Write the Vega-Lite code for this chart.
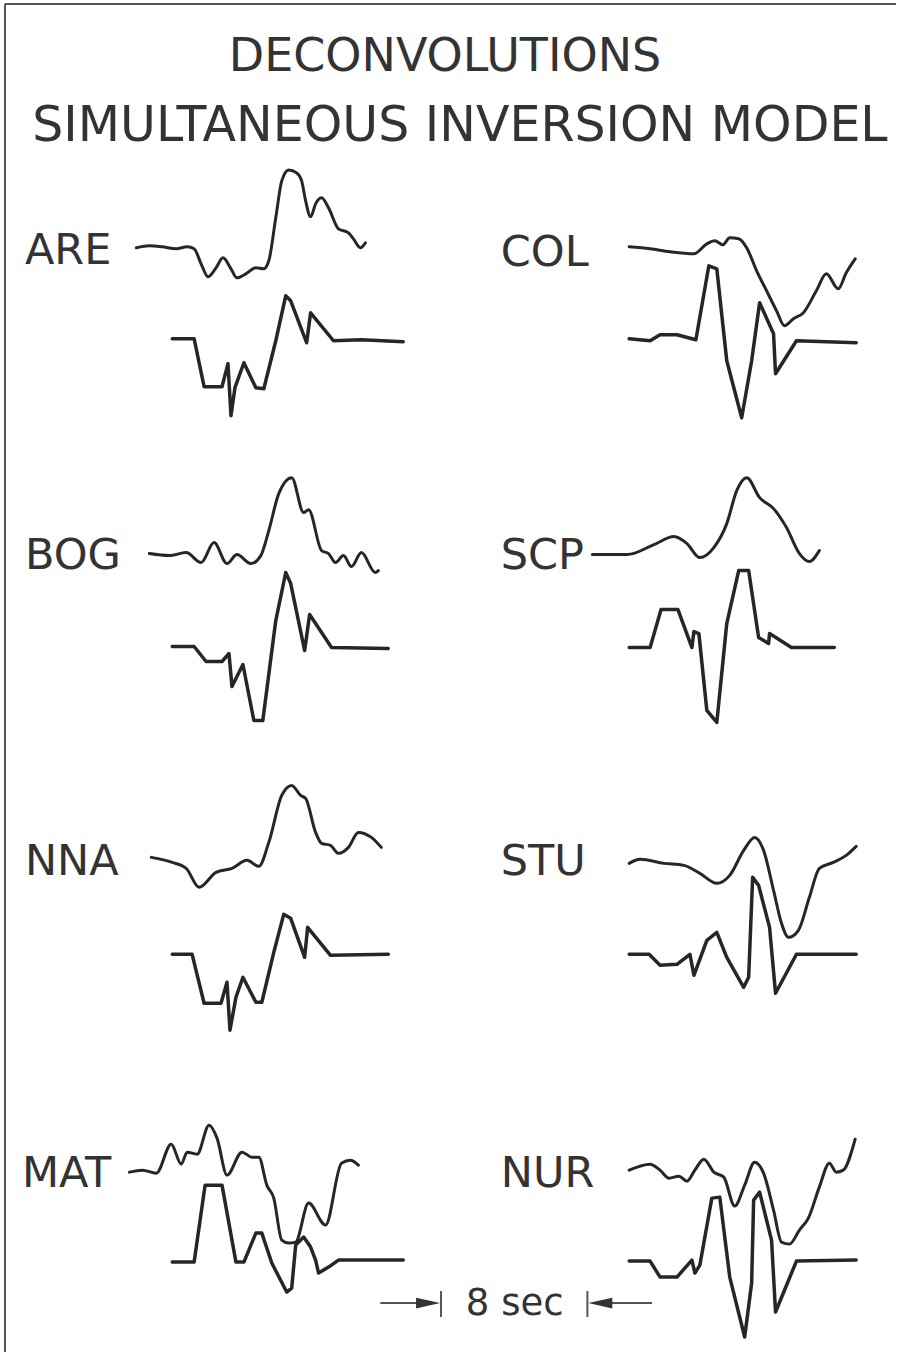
{
  "$schema": "https://vega.github.io/schema/vega-lite/v6.json",
  "autosize": {"type": "fit", "contains": "padding"},
  "width": 900,
  "height": 1357,
  "padding": 0,
  "background": "white",
  "config": {"view": {"stroke": null}},
  "datasets": {
    "frame": [
      {"s": "top", "i": 0, "x": 5, "y": 3}, {"s": "top", "i": 1, "x": 900, "y": 3},
      {"s": "left", "i": 0, "x": 5, "y": 3}, {"s": "left", "i": 1, "x": 5, "y": 1352},
      {"s": "shaftL", "i": 0, "x": 382, "y": 1303}, {"s": "shaftL", "i": 1, "x": 422, "y": 1303},
      {"s": "barL", "i": 0, "x": 443, "y": 1291}, {"s": "barL", "i": 1, "x": 443, "y": 1317},
      {"s": "barR", "i": 0, "x": 590, "y": 1291}, {"s": "barR", "i": 1, "x": 590, "y": 1317},
      {"s": "shaftR", "i": 0, "x": 612, "y": 1303}, {"s": "shaftR", "i": 1, "x": 655, "y": 1303}
    ],
    "arrows": [
      {"dir": "right", "x": 430, "y": 1303},
      {"dir": "left", "x": 603, "y": 1303}
    ],
    "labels": [
      {"t": "ARE", "x": 25, "y": 263}, {"t": "BOG", "x": 25, "y": 568},
      {"t": "NNA", "x": 25, "y": 875}, {"t": "MAT", "x": 22, "y": 1187},
      {"t": "COL", "x": 503, "y": 265}, {"t": "SCP", "x": 503, "y": 568},
      {"t": "STU", "x": 503, "y": 875}, {"t": "NUR", "x": 503, "y": 1187}
    ],
    "titles": [
      {"t": "DECONVOLUTIONS", "x": 447, "y": 70, "line": 1},
      {"t": "SIMULTANEOUS INVERSION MODEL", "x": 462, "y": 140, "line": 2}
    ],
    "scaletext": [{"t": "8 sec", "x": 517, "y": 1304}],
    "upper": [
      {"s":"ARE","i":0,"x":137,"y":247},{"s":"ARE","i":1,"x":150,"y":245},{"s":"ARE","i":2,"x":163,"y":246},{"s":"ARE","i":3,"x":177,"y":248},{"s":"ARE","i":4,"x":188,"y":246},{"s":"ARE","i":5,"x":195,"y":248},{"s":"ARE","i":6,"x":202,"y":263},{"s":"ARE","i":7,"x":209,"y":276},{"s":"ARE","i":8,"x":217,"y":267},{"s":"ARE","i":9,"x":224,"y":257},{"s":"ARE","i":10,"x":232,"y":268},{"s":"ARE","i":11,"x":238,"y":277},{"s":"ARE","i":12,"x":247,"y":273},{"s":"ARE","i":13,"x":257,"y":267},{"s":"ARE","i":14,"x":265,"y":268},{"s":"ARE","i":15,"x":270,"y":260},{"s":"ARE","i":16,"x":277,"y":217},{"s":"ARE","i":17,"x":283,"y":180},{"s":"ARE","i":18,"x":290,"y":169},{"s":"ARE","i":19,"x":298,"y":172},{"s":"ARE","i":20,"x":303,"y":180},{"s":"ARE","i":21,"x":307,"y":200},{"s":"ARE","i":22,"x":312,"y":216},{"s":"ARE","i":23,"x":317,"y":203},{"s":"ARE","i":24,"x":323,"y":197},{"s":"ARE","i":25,"x":330,"y":207},{"s":"ARE","i":26,"x":340,"y":228},{"s":"ARE","i":27,"x":350,"y":232},{"s":"ARE","i":28,"x":355,"y":238},{"s":"ARE","i":29,"x":362,"y":247},{"s":"ARE","i":30,"x":367,"y":242},
      {"s":"COL","i":0,"x":632,"y":246},{"s":"COL","i":1,"x":653,"y":248},{"s":"COL","i":2,"x":673,"y":251},{"s":"COL","i":3,"x":697,"y":253},{"s":"COL","i":4,"x":710,"y":243},{"s":"COL","i":5,"x":718,"y":240},{"s":"COL","i":6,"x":726,"y":244},{"s":"COL","i":7,"x":733,"y":237},{"s":"COL","i":8,"x":742,"y":238},{"s":"COL","i":9,"x":750,"y":247},{"s":"COL","i":10,"x":760,"y":270},{"s":"COL","i":11,"x":770,"y":290},{"s":"COL","i":12,"x":780,"y":310},{"s":"COL","i":13,"x":788,"y":325},{"s":"COL","i":14,"x":797,"y":318},{"s":"COL","i":15,"x":807,"y":312},{"s":"COL","i":16,"x":820,"y":290},{"s":"COL","i":17,"x":830,"y":273},{"s":"COL","i":18,"x":842,"y":288},{"s":"COL","i":19,"x":850,"y":272},{"s":"COL","i":20,"x":859,"y":258},
      {"s":"BOG","i":0,"x":150,"y":553},{"s":"BOG","i":1,"x":170,"y":555},{"s":"BOG","i":2,"x":187,"y":552},{"s":"BOG","i":3,"x":202,"y":562},{"s":"BOG","i":4,"x":215,"y":542},{"s":"BOG","i":5,"x":228,"y":563},{"s":"BOG","i":6,"x":238,"y":554},{"s":"BOG","i":7,"x":252,"y":563},{"s":"BOG","i":8,"x":262,"y":555},{"s":"BOG","i":9,"x":270,"y":530},{"s":"BOG","i":10,"x":280,"y":493},{"s":"BOG","i":11,"x":293,"y":477},{"s":"BOG","i":12,"x":305,"y":512},{"s":"BOG","i":13,"x":310,"y":509},{"s":"BOG","i":14,"x":323,"y":550},{"s":"BOG","i":15,"x":330,"y":553},{"s":"BOG","i":16,"x":337,"y":562},{"s":"BOG","i":17,"x":345,"y":555},{"s":"BOG","i":18,"x":353,"y":566},{"s":"BOG","i":19,"x":363,"y":552},{"s":"BOG","i":20,"x":377,"y":572},{"s":"BOG","i":21,"x":380,"y":570},
      {"s":"SCP","i":0,"x":595,"y":554},{"s":"SCP","i":1,"x":630,"y":554},{"s":"SCP","i":2,"x":657,"y":544},{"s":"SCP","i":3,"x":677,"y":536},{"s":"SCP","i":4,"x":690,"y":543},{"s":"SCP","i":5,"x":703,"y":557},{"s":"SCP","i":6,"x":717,"y":547},{"s":"SCP","i":7,"x":730,"y":523},{"s":"SCP","i":8,"x":740,"y":490},{"s":"SCP","i":9,"x":750,"y":477},{"s":"SCP","i":10,"x":763,"y":497},{"s":"SCP","i":11,"x":777,"y":508},{"s":"SCP","i":12,"x":790,"y":527},{"s":"SCP","i":13,"x":803,"y":553},{"s":"SCP","i":14,"x":813,"y":561},{"s":"SCP","i":15,"x":823,"y":550},
      {"s":"NNA","i":0,"x":152,"y":857},{"s":"NNA","i":1,"x":173,"y":862},{"s":"NNA","i":2,"x":187,"y":868},{"s":"NNA","i":3,"x":200,"y":887},{"s":"NNA","i":4,"x":217,"y":872},{"s":"NNA","i":5,"x":233,"y":868},{"s":"NNA","i":6,"x":248,"y":860},{"s":"NNA","i":7,"x":260,"y":866},{"s":"NNA","i":8,"x":270,"y":842},{"s":"NNA","i":9,"x":283,"y":795},{"s":"NNA","i":10,"x":293,"y":785},{"s":"NNA","i":11,"x":302,"y":795},{"s":"NNA","i":12,"x":307,"y":798},{"s":"NNA","i":13,"x":317,"y":832},{"s":"NNA","i":14,"x":323,"y":843},{"s":"NNA","i":15,"x":332,"y":845},{"s":"NNA","i":16,"x":340,"y":853},{"s":"NNA","i":17,"x":350,"y":847},{"s":"NNA","i":18,"x":360,"y":832},{"s":"NNA","i":19,"x":373,"y":837},{"s":"NNA","i":20,"x":383,"y":847},
      {"s":"STU","i":0,"x":632,"y":863},{"s":"STU","i":1,"x":643,"y":859},{"s":"STU","i":2,"x":667,"y":863},{"s":"STU","i":3,"x":687,"y":865},{"s":"STU","i":4,"x":703,"y":873},{"s":"STU","i":5,"x":720,"y":883},{"s":"STU","i":6,"x":733,"y":875},{"s":"STU","i":7,"x":747,"y":850},{"s":"STU","i":8,"x":758,"y":837},{"s":"STU","i":9,"x":767,"y":850},{"s":"STU","i":10,"x":777,"y":890},{"s":"STU","i":11,"x":785,"y":923},{"s":"STU","i":12,"x":792,"y":937},{"s":"STU","i":13,"x":802,"y":930},{"s":"STU","i":14,"x":813,"y":897},{"s":"STU","i":15,"x":823,"y":868},{"s":"STU","i":16,"x":837,"y":862},{"s":"STU","i":17,"x":850,"y":855},{"s":"STU","i":18,"x":860,"y":846},
      {"s":"MAT","i":0,"x":130,"y":1172},{"s":"MAT","i":1,"x":143,"y":1170},{"s":"MAT","i":2,"x":157,"y":1173},{"s":"MAT","i":3,"x":172,"y":1144},{"s":"MAT","i":4,"x":182,"y":1164},{"s":"MAT","i":5,"x":188,"y":1152},{"s":"MAT","i":6,"x":198,"y":1154},{"s":"MAT","i":7,"x":210,"y":1125},{"s":"MAT","i":8,"x":218,"y":1138},{"s":"MAT","i":9,"x":228,"y":1175},{"s":"MAT","i":10,"x":243,"y":1152},{"s":"MAT","i":11,"x":253,"y":1157},{"s":"MAT","i":12,"x":260,"y":1157},{"s":"MAT","i":13,"x":268,"y":1185},{"s":"MAT","i":14,"x":275,"y":1198},{"s":"MAT","i":15,"x":283,"y":1240},{"s":"MAT","i":16,"x":290,"y":1243},{"s":"MAT","i":17,"x":297,"y":1242},{"s":"MAT","i":18,"x":310,"y":1203},{"s":"MAT","i":19,"x":327,"y":1225},{"s":"MAT","i":20,"x":343,"y":1163},{"s":"MAT","i":21,"x":352,"y":1160},{"s":"MAT","i":22,"x":360,"y":1165},
      {"s":"NUR","i":0,"x":632,"y":1170},{"s":"NUR","i":1,"x":653,"y":1164},{"s":"NUR","i":2,"x":663,"y":1170},{"s":"NUR","i":3,"x":672,"y":1178},{"s":"NUR","i":4,"x":682,"y":1176},{"s":"NUR","i":5,"x":690,"y":1181},{"s":"NUR","i":6,"x":698,"y":1170},{"s":"NUR","i":7,"x":707,"y":1159},{"s":"NUR","i":8,"x":717,"y":1172},{"s":"NUR","i":9,"x":727,"y":1177},{"s":"NUR","i":10,"x":738,"y":1206},{"s":"NUR","i":11,"x":748,"y":1185},{"s":"NUR","i":12,"x":758,"y":1162},{"s":"NUR","i":13,"x":767,"y":1173},{"s":"NUR","i":14,"x":777,"y":1210},{"s":"NUR","i":15,"x":785,"y":1242},{"s":"NUR","i":16,"x":793,"y":1244},{"s":"NUR","i":17,"x":803,"y":1230},{"s":"NUR","i":18,"x":812,"y":1218},{"s":"NUR","i":19,"x":823,"y":1187},{"s":"NUR","i":20,"x":833,"y":1163},{"s":"NUR","i":21,"x":840,"y":1172},{"s":"NUR","i":22,"x":847,"y":1170},{"s":"NUR","i":23,"x":859,"y":1139}
    ],
    "lower": [
      {"s":"ARE","i":0,"x":173,"y":338},{"s":"ARE","i":1,"x":195,"y":338},{"s":"ARE","i":2,"x":205,"y":386},{"s":"ARE","i":3,"x":223,"y":386},{"s":"ARE","i":4,"x":229,"y":363},{"s":"ARE","i":5,"x":232,"y":415},{"s":"ARE","i":6,"x":236,"y":387},{"s":"ARE","i":7,"x":245,"y":362},{"s":"ARE","i":8,"x":257,"y":387},{"s":"ARE","i":9,"x":265,"y":388},{"s":"ARE","i":10,"x":277,"y":340},{"s":"ARE","i":11,"x":287,"y":295},{"s":"ARE","i":12,"x":292,"y":300},{"s":"ARE","i":13,"x":308,"y":342},{"s":"ARE","i":14,"x":312,"y":312},{"s":"ARE","i":15,"x":335,"y":340},{"s":"ARE","i":16,"x":363,"y":339},{"s":"ARE","i":17,"x":405,"y":341},
      {"s":"COL","i":0,"x":632,"y":338},{"s":"COL","i":1,"x":653,"y":340},{"s":"COL","i":2,"x":663,"y":334},{"s":"COL","i":3,"x":680,"y":334},{"s":"COL","i":4,"x":699,"y":339},{"s":"COL","i":5,"x":712,"y":265},{"s":"COL","i":6,"x":720,"y":268},{"s":"COL","i":7,"x":730,"y":360},{"s":"COL","i":8,"x":745,"y":417},{"s":"COL","i":9,"x":755,"y":360},{"s":"COL","i":10,"x":763,"y":302},{"s":"COL","i":11,"x":777,"y":333},{"s":"COL","i":12,"x":779,"y":373},{"s":"COL","i":13,"x":800,"y":340},{"s":"COL","i":14,"x":860,"y":342},
      {"s":"BOG","i":0,"x":173,"y":646},{"s":"BOG","i":1,"x":195,"y":646},{"s":"BOG","i":2,"x":207,"y":661},{"s":"BOG","i":3,"x":223,"y":661},{"s":"BOG","i":4,"x":230,"y":653},{"s":"BOG","i":5,"x":233,"y":686},{"s":"BOG","i":6,"x":244,"y":664},{"s":"BOG","i":7,"x":255,"y":720},{"s":"BOG","i":8,"x":264,"y":720},{"s":"BOG","i":9,"x":277,"y":620},{"s":"BOG","i":10,"x":287,"y":572},{"s":"BOG","i":11,"x":292,"y":583},{"s":"BOG","i":12,"x":306,"y":650},{"s":"BOG","i":13,"x":311,"y":614},{"s":"BOG","i":14,"x":333,"y":647},{"s":"BOG","i":15,"x":390,"y":648},
      {"s":"SCP","i":0,"x":632,"y":647},{"s":"SCP","i":1,"x":653,"y":647},{"s":"SCP","i":2,"x":664,"y":609},{"s":"SCP","i":3,"x":681,"y":609},{"s":"SCP","i":4,"x":695,"y":647},{"s":"SCP","i":5,"x":697,"y":631},{"s":"SCP","i":6,"x":702,"y":633},{"s":"SCP","i":7,"x":710,"y":710},{"s":"SCP","i":8,"x":720,"y":722},{"s":"SCP","i":9,"x":730,"y":623},{"s":"SCP","i":10,"x":742,"y":570},{"s":"SCP","i":11,"x":752,"y":570},{"s":"SCP","i":12,"x":762,"y":637},{"s":"SCP","i":13,"x":772,"y":643},{"s":"SCP","i":14,"x":773,"y":633},{"s":"SCP","i":15,"x":795,"y":647},{"s":"SCP","i":16,"x":838,"y":647},
      {"s":"NNA","i":0,"x":173,"y":954},{"s":"NNA","i":1,"x":193,"y":954},{"s":"NNA","i":2,"x":205,"y":1003},{"s":"NNA","i":3,"x":222,"y":1003},{"s":"NNA","i":4,"x":228,"y":982},{"s":"NNA","i":5,"x":231,"y":1030},{"s":"NNA","i":6,"x":237,"y":997},{"s":"NNA","i":7,"x":244,"y":977},{"s":"NNA","i":8,"x":257,"y":1002},{"s":"NNA","i":9,"x":263,"y":1002},{"s":"NNA","i":10,"x":275,"y":952},{"s":"NNA","i":11,"x":285,"y":914},{"s":"NNA","i":12,"x":292,"y":918},{"s":"NNA","i":13,"x":306,"y":957},{"s":"NNA","i":14,"x":309,"y":927},{"s":"NNA","i":15,"x":332,"y":955},{"s":"NNA","i":16,"x":390,"y":954},
      {"s":"STU","i":0,"x":632,"y":954},{"s":"STU","i":1,"x":652,"y":954},{"s":"STU","i":2,"x":663,"y":965},{"s":"STU","i":3,"x":680,"y":964},{"s":"STU","i":4,"x":693,"y":954},{"s":"STU","i":5,"x":697,"y":975},{"s":"STU","i":6,"x":710,"y":940},{"s":"STU","i":7,"x":720,"y":932},{"s":"STU","i":8,"x":730,"y":957},{"s":"STU","i":9,"x":747,"y":987},{"s":"STU","i":10,"x":752,"y":977},{"s":"STU","i":11,"x":756,"y":877},{"s":"STU","i":12,"x":762,"y":885},{"s":"STU","i":13,"x":773,"y":927},{"s":"STU","i":14,"x":779,"y":993},{"s":"STU","i":15,"x":800,"y":954},{"s":"STU","i":16,"x":860,"y":954},
      {"s":"MAT","i":0,"x":173,"y":1262},{"s":"MAT","i":1,"x":195,"y":1262},{"s":"MAT","i":2,"x":206,"y":1185},{"s":"MAT","i":3,"x":223,"y":1185},{"s":"MAT","i":4,"x":237,"y":1262},{"s":"MAT","i":5,"x":245,"y":1262},{"s":"MAT","i":6,"x":257,"y":1233},{"s":"MAT","i":7,"x":263,"y":1233},{"s":"MAT","i":8,"x":273,"y":1263},{"s":"MAT","i":9,"x":288,"y":1292},{"s":"MAT","i":10,"x":293,"y":1288},{"s":"MAT","i":11,"x":297,"y":1245},{"s":"MAT","i":12,"x":305,"y":1237},{"s":"MAT","i":13,"x":312,"y":1247},{"s":"MAT","i":14,"x":317,"y":1260},{"s":"MAT","i":15,"x":320,"y":1273},{"s":"MAT","i":16,"x":330,"y":1267},{"s":"MAT","i":17,"x":340,"y":1260},{"s":"MAT","i":18,"x":405,"y":1260},
      {"s":"NUR","i":0,"x":632,"y":1261},{"s":"NUR","i":1,"x":653,"y":1261},{"s":"NUR","i":2,"x":663,"y":1277},{"s":"NUR","i":3,"x":680,"y":1277},{"s":"NUR","i":4,"x":695,"y":1260},{"s":"NUR","i":5,"x":698,"y":1273},{"s":"NUR","i":6,"x":703,"y":1265},{"s":"NUR","i":7,"x":715,"y":1198},{"s":"NUR","i":8,"x":723,"y":1197},{"s":"NUR","i":9,"x":733,"y":1277},{"s":"NUR","i":10,"x":748,"y":1337},{"s":"NUR","i":11,"x":755,"y":1283},{"s":"NUR","i":12,"x":757,"y":1200},{"s":"NUR","i":13,"x":763,"y":1192},{"s":"NUR","i":14,"x":775,"y":1240},{"s":"NUR","i":15,"x":779,"y":1312},{"s":"NUR","i":16,"x":800,"y":1261},{"s":"NUR","i":17,"x":860,"y":1260}
    ]
  },
  "encoding": {
    "x": {"field": "x", "type": "quantitative", "scale": {"domain": [0, 900], "nice": false, "zero": false}, "axis": null},
    "y": {"field": "y", "type": "quantitative", "scale": {"domain": [0, 1357], "nice": false, "zero": false, "reverse": true}, "axis": null}
  },
  "layer": [
    {
      "data": {"name": "frame"},
      "mark": {"type": "line", "stroke": "#555555", "strokeWidth": 2, "clip": false},
      "encoding": {"detail": {"field": "s"}, "order": {"field": "i", "type": "quantitative"}}
    },
    {
      "data": {"name": "upper"},
      "mark": {"type": "line", "interpolate": "monotone", "stroke": "#262626", "strokeWidth": 3, "strokeJoin": "round", "strokeCap": "round"},
      "encoding": {"detail": {"field": "s"}, "order": {"field": "i", "type": "quantitative"}}
    },
    {
      "data": {"name": "lower"},
      "mark": {"type": "line", "interpolate": "linear", "stroke": "#262626", "strokeWidth": 3.5, "strokeJoin": "round", "strokeCap": "round"},
      "encoding": {"detail": {"field": "s"}, "order": {"field": "i", "type": "quantitative"}}
    },
    {
      "data": {"name": "arrows"},
      "transform": [{"filter": "datum.dir == 'right'"}],
      "mark": {"type": "point", "shape": "M-1,-0.45L1,0L-1,0.45Z", "size": 576, "filled": true, "color": "#333333", "opacity": 1}
    },
    {
      "data": {"name": "arrows"},
      "transform": [{"filter": "datum.dir == 'left'"}],
      "mark": {"type": "point", "shape": "M1,-0.45L-1,0L1,0.45Z", "size": 576, "filled": true, "color": "#333333", "opacity": 1}
    },
    {
      "data": {"name": "labels"},
      "mark": {"type": "text", "align": "left", "baseline": "alphabetic", "font": "DejaVu Sans", "fontSize": 43, "color": "#333333"},
      "encoding": {"text": {"field": "t"}}
    },
    {
      "data": {"name": "titles"},
      "transform": [{"filter": "datum.line == 1"}],
      "mark": {"type": "text", "align": "center", "baseline": "alphabetic", "font": "DejaVu Sans", "fontSize": 46, "color": "#333333"},
      "encoding": {"text": {"field": "t"}}
    },
    {
      "data": {"name": "titles"},
      "transform": [{"filter": "datum.line == 2"}],
      "mark": {"type": "text", "align": "center", "baseline": "alphabetic", "font": "DejaVu Sans", "fontSize": 49, "color": "#333333"},
      "encoding": {"text": {"field": "t"}}
    },
    {
      "data": {"name": "scaletext"},
      "mark": {"type": "text", "align": "center", "baseline": "middle", "font": "DejaVu Sans", "fontSize": 37, "color": "#333333"},
      "encoding": {"text": {"field": "t"}}
    }
  ]
}
